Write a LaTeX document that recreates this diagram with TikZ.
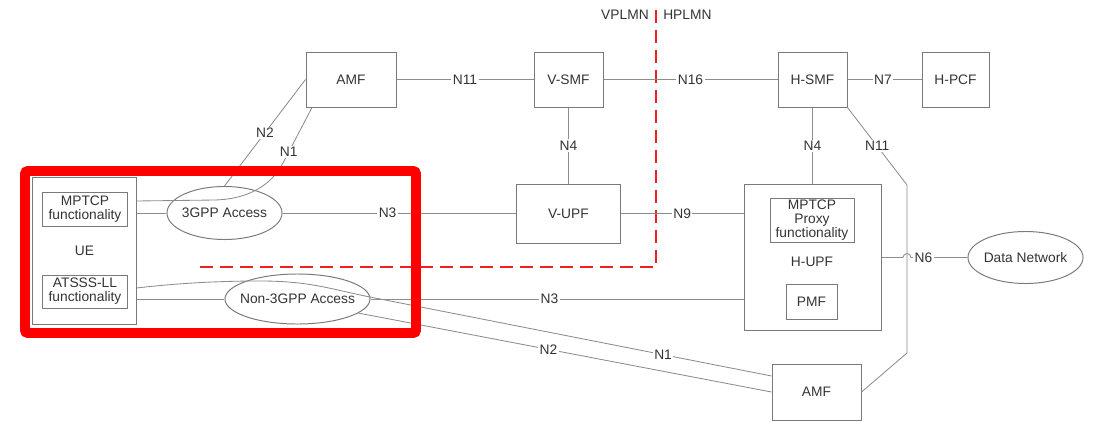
\documentclass[tikz,border=0pt]{standalone}
\usepackage{fontspec}
\setmainfont{Liberation Sans}
\usepackage{tikz}
\usetikzlibrary{shapes.geometric}
\definecolor{nflink}{HTML}{8C8C8C}
\definecolor{nfedge}{HTML}{7A7A7A}
\definecolor{nftext}{HTML}{333333}
\definecolor{plmnred}{HTML}{F02020}
\definecolor{markred}{HTML}{FF0000}
\newcommand{\nffont}{\fontsize{9.8}{10}\selectfont}
\tikzset{
  nfbox/.style={
    rectangle,
    draw=nfedge,
    line width=0.7pt,
    text=nftext,
    align=center,
    inner sep=0pt,
    font=\nffont
  },
  nfoval/.style={nfbox, ellipse, inner xsep=-8pt},
  nfline/.style={draw=nflink, line width=0.6pt},
  nflabel/.style={fill=white, text=nftext, inner sep=1pt, font=\nffont},
  plmnline/.style={draw=plmnred, line width=1.8pt, dash pattern=on 0.325cm off 0.175cm},
  highlight/.style={draw=markred, line width=7pt, rounded corners=2pt}
}

\begin{document}
\begin{tikzpicture}[x=0.025cm, y=-0.025cm]
\useasboundingbox (0,0) rectangle (1096,421);
% UE and access
\node[nfbox, minimum width=2.575cm, minimum height=3.65cm] (ue) at (84.5,251) {UE};
\node[nfbox, minimum width=2.1cm, minimum height=0.85cm] (mptcp) at (85,209) {MPTCP\\functionality};
\node[nfbox, minimum width=2.1cm, minimum height=0.825cm] (atsss) at (85,291.5) {ATSSS-LL\\functionality};
\node[nfoval, minimum width=2.875cm, minimum height=1.325cm] (acc3) at (224.5,213) {3GPP Access};
\node[nfoval, minimum width=3.625cm, minimum height=1.25cm] (accn3) at (297.5,299) {Non-3GPP Access};
% visited network
\node[nfbox, minimum width=2.25cm, minimum height=1.375cm] (amfa) at (351,79.5) {AMF};
\node[nfbox, minimum width=1.725cm, minimum height=1.375cm] (vsmf) at (568.5,79.5) {V-SMF};
\node[nfbox, minimum width=2.6cm, minimum height=1.475cm] (vupf) at (568.5,213.5) {V-UPF};
% home network
\node[nfbox, minimum width=1.725cm, minimum height=1.375cm] (hsmf) at (812.5,79.5) {H-SMF};
\node[nfbox, minimum width=1.675cm, minimum height=1.375cm] (hpcf) at (955.5,79.5) {H-PCF};
\node[nfbox, minimum width=3.425cm, minimum height=3.625cm] (hupf) at (812.5,257.5) {};
\node[nfbox, minimum width=2.1cm, minimum height=1.1cm] (proxy) at (812,220) {MPTCP\\Proxy\\functionality};
\node[text=nftext, font=\nffont, inner sep=0pt] (hupflbl) at (812,262) {H-UPF};
\node[nfbox, minimum width=1.275cm, minimum height=0.875cm] (pmf) at (811.5,301.5) {PMF};
\node[nfoval, minimum width=2.875cm, minimum height=1.3cm] (dn) at (1025.5,257.5) {Data Network};
\node[nfbox, minimum width=2.225cm, minimum height=1.4cm] (amfb) at (816.5,392) {AMF};
% PLMN border
\node[text=nftext, font=\nffont, inner sep=0pt, anchor=east] (vplmn) at (649,15) {VPLMN};
\node[text=nftext, font=\nffont, inner sep=0pt, anchor=west] (hplmn) at (663,15) {HPLMN};
\draw[plmnline] (656,10) -- (656,267) -- (198,267);
% helper points
\coordinate (uen1) at (ue.east |- 0,201);
\coordinate (uen1b) at (ue.east |- 0,288);
\coordinate (amfn1) at (amfa.south -| 312,0);
\coordinate (amfbn1) at ([yshift=0.4cm]amfb.west);
\coordinate (n11a) at (907,185);
\coordinate (n11b) at (907,353);
\coordinate (hopa) at (903,257.5);
% links
\draw[nfline] (ue.east |- acc3.west) -- (acc3.west);
\draw[nfline] (uen1) -- (215,200) .. controls (250,199) and (272,184) .. (283,163) -- (amfn1) node[nflabel,pos=0.2]{N1};
\draw[nfline] (acc3.north) -- (amfa.west) node[nflabel,pos=0.5]{N2};
\draw[nfline] (acc3.east) -- (acc3.east -| vupf.west) node[nflabel,pos=0.45]{N3};
\draw[nfline] (amfa) -- (vsmf) node[nflabel,pos=0.5]{N11};
\draw[nfline] (vsmf) -- (vupf) node[nflabel,pos=0.5]{N4};
\draw[nfline] (vsmf) -- (hsmf) node[nflabel,pos=0.5]{N16};
\draw[nfline] (hsmf) -- (hpcf) node[nflabel,pos=0.48]{N7};
\draw[nfline] (hsmf) -- (hupf) node[nflabel,pos=0.5]{N4};
\draw[nfline] (vupf.east) -- (vupf.east -| hupf.west) node[nflabel,pos=0.5]{N9};
\draw[nfline] (hsmf.south east) -- (n11a) node[nflabel,pos=0.5]{N11} -- (n11b) -- (amfb.east);
\draw[nfline] (hupf.east) -- (hopa) arc[start angle=180, end angle=0, radius=0.1cm] -- (dn.west) node[nflabel,pos=0.22]{N6};
\draw[nfline] (ue.east |- accn3.west) -- (accn3.west);
\draw[nfline] (accn3.east) -- (accn3.east -| hupf.west) node[nflabel,pos=0.48]{N3};
\draw[nfline] (uen1b) .. controls (180,283) and (220,281) .. (260,281) .. controls (310,281) and (330,289) .. (370,297) -- (amfbn1) node[nflabel,pos=0.73]{N1};
\draw[nfline] (accn3.-13) -- (amfb.west) node[nflabel,pos=0.46]{N2};
% highlight frame
\draw[highlight] (25,171) rectangle (416,333);
\end{tikzpicture}
\end{document}
